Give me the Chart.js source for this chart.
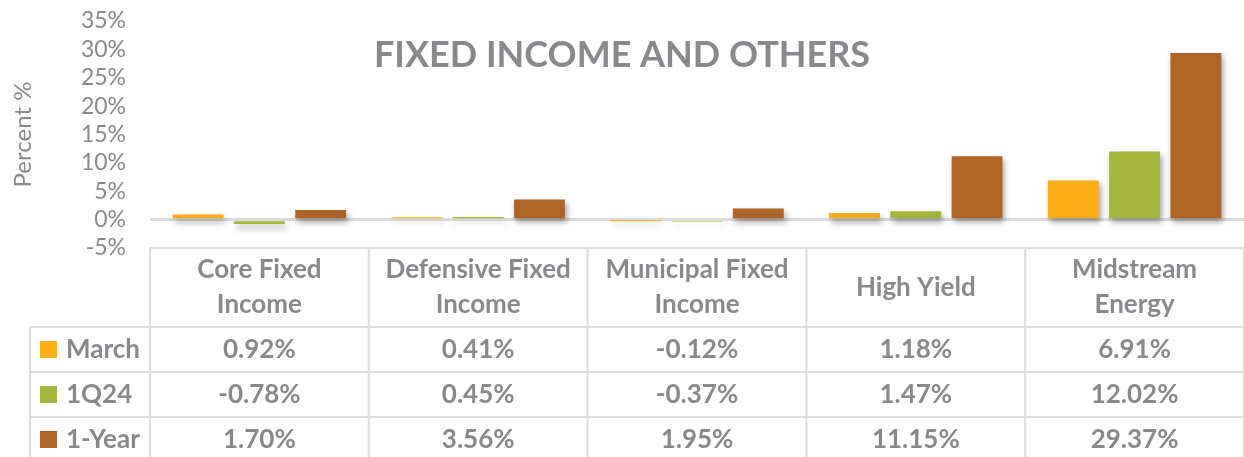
<!DOCTYPE html>
<html>
<head>
<meta charset="utf-8">
<script src="https://cdn.jsdelivr.net/npm/chart.js@4"></script>
<style>
  body { margin: 0; background: #fff; }
  canvas { display: block; }
</style>
</head>
<body>
<canvas id="c" width="1244" height="457"></canvas>
<script>
// data
const categories = [['Core Fixed', 'Income'], ['Defensive Fixed', 'Income'], ['Municipal Fixed', 'Income'], ['High Yield'], ['Midstream', 'Energy']];
const seriesNames = ['March', '1Q24', '1-Year'];
const march = [0.92, 0.41, -0.12, 1.18, 6.91];
const q1 = [-0.78, 0.45, -0.37, 1.47, 12.02];
const oneYear = [1.70, 3.56, 1.95, 11.15, 29.37];
const colors = ['#FBAE18', '#A5B43B', '#AD6628'];

const GREY = '#8B888D';
const LINE = '#DDDCDD';
const FONT = 'Lato, "Open Sans", sans-serif';

// shadow under the bars, like the excel outer shadow
const barShadow = {
  id: 'barShadow',
  beforeDatasetsDraw(chart) {
    const ctx = chart.ctx;
    ctx.save();
    ctx.shadowColor = 'rgba(0,0,0,0.38)';
    ctx.shadowBlur = 6;
    ctx.shadowOffsetX = 2;
    ctx.shadowOffsetY = 4;
  },
  afterDatasetsDraw(chart) {
    chart.ctx.restore();
  }
};

// big title sits inside the plot + the data table under it
const titleAndTable = {
  id: 'titleAndTable',
  afterDraw(chart) {
    const ctx = chart.ctx;
    const area = chart.chartArea;
    const x = chart.scales.x;
    const colW = (area.right - area.left) / categories.length;
    ctx.save();

    ctx.fillStyle = GREY;
    ctx.font = 'bold 36px ' + FONT;
    ctx.textAlign = 'center';
    ctx.textBaseline = 'middle';
    ctx.fillText('FIXED INCOME AND OTHERS', 622, 55);

    const top = 248, headBottom = 327, rowH = 45, legLeft = 30;
    ctx.strokeStyle = LINE;
    ctx.lineWidth = 2;
    ctx.beginPath();
    ctx.moveTo(area.left, top); ctx.lineTo(area.right, top);
    for (let r = 0; r < 4; r++) {
      const y = headBottom + r * rowH;
      ctx.moveTo(legLeft, y); ctx.lineTo(area.right, y);
    }
    ctx.moveTo(legLeft, headBottom); ctx.lineTo(legLeft, 457);
    for (let i = 0; i <= categories.length; i++) {
      const lx = area.left + i * colW;
      ctx.moveTo(lx, top); ctx.lineTo(lx, 457);
    }
    ctx.stroke();

    ctx.font = 'bold 26px ' + FONT;
    ctx.fillStyle = GREY;
    categories.forEach((lab, i) => {
      const cx = x.getPixelForValue(i);
      const lh = 35;
      const y0 = (top + headBottom) / 2 - (lab.length - 1) * lh / 2;
      lab.forEach((t, k) => ctx.fillText(t, cx, y0 + k * lh));
    });

    const rows = [march, q1, oneYear];
    rows.forEach((vals, r) => {
      const cy = headBottom + r * rowH + rowH / 2;
      ctx.fillStyle = colors[r];
      ctx.fillRect(40, cy - 8.5, 17, 17);
      ctx.fillStyle = GREY;
      ctx.textAlign = 'left';
      ctx.fillText(seriesNames[r], 66, cy);
      ctx.textAlign = 'center';
      vals.forEach((v, i) => ctx.fillText(v.toFixed(2) + '%', x.getPixelForValue(i), cy));
    });
    ctx.restore();
  }
};

new Chart(document.getElementById('c'), {
  type: 'bar',
  data: {
    labels: categories,
    datasets: [
      { label: seriesNames[0], data: march, backgroundColor: colors[0] },
      { label: seriesNames[1], data: q1, backgroundColor: colors[1] },
      { label: seriesNames[2], data: oneYear, backgroundColor: colors[2] }
    ]
  },
  options: {
    responsive: false,
    animation: false,
    layout: { padding: { top: 21, bottom: 209, left: 0, right: 0 } },
    datasets: { bar: { categoryPercentage: 0.84, barPercentage: 0.83 } },
    plugins: { legend: { display: false }, tooltip: { enabled: false }, title: { display: false } },
    scales: {
      x: { display: false },
      y: {
        min: -5, max: 35,
        afterFit: s => { s.width = 150; },
        border: { display: false },
        grid: {
          drawTicks: true,
          tickLength: 24,
          tickColor: 'rgba(0,0,0,0)',
          lineWidth: 3,
          color: c => c.tick && c.tick.value === 0 ? LINE : 'rgba(0,0,0,0)'
        },
        ticks: {
          stepSize: 5,
          padding: 0,
          autoSkip: false,
          color: GREY,
          font: { family: FONT, size: 23, lineHeight: 1 },
          callback: v => v + '%'
        },
        title: {
          display: true,
          text: 'Percent %',
          color: GREY,
          font: { family: FONT, size: 24 },
          padding: { top: 9, bottom: 0 }
        }
      }
    }
  },
  plugins: [barShadow, titleAndTable]
});
</script>
</body>
</html>
